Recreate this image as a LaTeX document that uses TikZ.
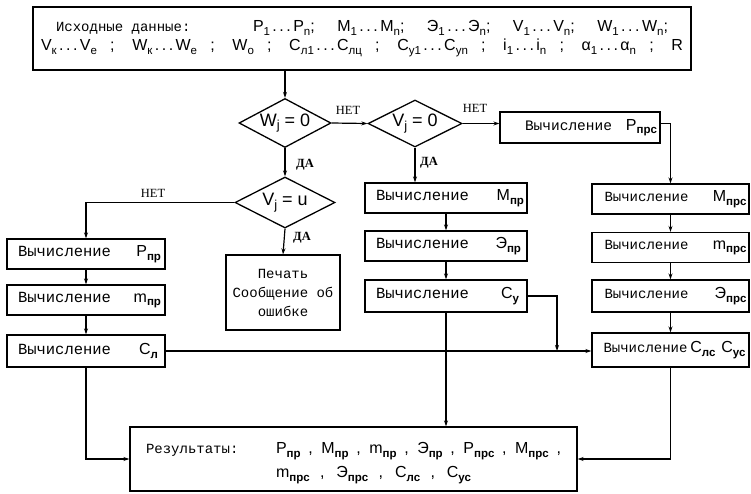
\documentclass[tikz,border=0pt]{standalone}
\usepackage{graphicx}
\usepackage{fontspec}
\setmainfont{Liberation Serif}
\newfontfamily\wordf{Liberation Mono}
\newfontfamily\symf{Liberation Sans}
\usetikzlibrary{shapes.geometric,arrows.meta}
\newcommand\lo[1]{\raisebox{-0.4ex}{\scalebox{0.72}{#1}}}
\newcommand\lb[1]{\raisebox{-0.4ex}{\scalebox{0.72}{\bfseries #1}}}
\newcommand\dd{\hbox to 1.45em{\hspace{0.15em}.\hfil.\hfil.\hspace{0.15em}}}
\newcommand\vyc[4][15.5]{\hbox to #2{\hspace{#3}{\wordf\fontsize{#1}{18}\selectfont Вычисление}\hfil{\symf\fontsize{16}{18}\selectfont #4}}}
\tikzset{
  box/.style={draw, line width=1.3pt, rectangle, inner sep=0pt, minimum height=30pt,
    font=\fontsize{14}{19}\selectfont},
  dia/.style={draw, diamond, aspect=2, line width=1.3pt, inner sep=0pt,
    font=\symf\fontsize{18}{20}\selectfont},
  conn/.style={line width=1.2pt},
  arr/.style={conn, -{Stealth[length=6pt,width=4pt]}},
  lab/.style={font=\fontsize{12.5}{13}\selectfont, inner sep=0pt},
  dalab/.style={lab, font=\bfseries\fontsize{12.5}{13}\selectfont},
}
\begin{document}
\begin{tikzpicture}[x=1pt,y=-1pt]
\useasboundingbox (0,0) rectangle (751,493);
% top box
\node[box, minimum width=658pt, minimum height=63pt, font=\fontsize{14}{19}\selectfont] (in) at (362,38.5)
 {\vbox{\hbox to 642pt{\hspace{15pt}{\wordf Исходные данные:}\hfil{\symf\fontsize{16}{19}\selectfont\makebox[415pt][s]{P\lo{1}\dd P\lo{n}; M\lo{1}\dd M\lo{n}; Э\lo{1}\dd Э\lo{n}; V\lo{1}\dd V\lo{n}; W\lo{1}\dd W\lo{n};}}\hspace{15pt}}
  \hbox to 642pt{\symf\fontsize{16}{19}\selectfont\makebox[642pt][s]{V\lo{к}\dd V\lo{e} ; W\lo{к}\dd W\lo{e} ; W\lo{o} ; C\lo{л1}\dd C\lo{лц} ; C\lo{у1}\dd C\lo{уn} ; i\lo{1}\dd i\lo{n} ; α\lo{1}\dd α\lo{n} ; R}}}};
% diamonds
\node[dia, minimum width=92pt, minimum height=49pt] (w) at (285,123) {W\lo{j} = 0};
\node[dia, minimum width=94pt, minimum height=47pt] (v) at (415,123.5) {V\lo{j} = 0};
\node[dia, minimum width=100pt, minimum height=51pt] (u) at (285,202.5) {V\lo{j} = u};
% left column
\node[box, minimum width=158pt] (p1) at (86,254) {\vyc{150pt}{7pt}{P\lb{пр}}};
\node[box, minimum width=158pt] (m1) at (86,300) {\vyc{150pt}{7pt}{m\lb{пр}}};
\node[box, minimum width=158pt, minimum height=32pt] (c1) at (86,351) {\vyc{150pt}{7pt}{C\lb{л}\hspace{3pt}}};
\node[box, minimum width=114pt, minimum height=75pt, align=center, font=\wordf\fontsize{14}{19}\selectfont] (pr) at (283,292.5) {Печать\\Сообщение об\\ошибке};
% middle column
\node[box, minimum width=162pt] (mp) at (446,198) {\vyc{156pt}{8pt}{M\lb{пр}}};
\node[box, minimum width=162pt] (ep) at (446,246) {\vyc{156pt}{8pt}{Э\lb{пр}\hspace{3pt}}};
\node[box, minimum width=162pt, minimum height=32pt] (cy) at (446,296) {\vyc{156pt}{8pt}{C\lb{у}\hspace{5pt}}};
% right column
\node[box, minimum width=160pt, minimum height=31pt] (prs) at (580,127.5) {\vyc[14.5]{154pt}{22pt}{P\lb{прс}}};
\node[box, minimum width=157pt] (mprs) at (670.5,199) {\vyc[14]{152pt}{10pt}{M\lb{прс}}};
\node[box, minimum width=157pt] (mmprs) at (670.5,247.5) {\vyc[14]{152pt}{10pt}{m\lb{прс}}};
\node[box, minimum width=157pt, minimum height=32pt] (eprs) at (670.5,296) {\vyc[14]{152pt}{10pt}{Э\lb{прс}}};
\node[box, minimum width=157pt, minimum height=34pt] (cls) at (670.5,350) {\vyc[14]{150pt}{8pt}{C\lb{лс}\hspace{6pt}C\lb{ус}}};
% result
\node[box, minimum width=447pt, minimum height=64pt, font=\fontsize{14}{24}\selectfont] (res) at (353.5,459)
 {\vbox{\vskip 8pt\hbox to 415pt{{\wordf Результаты:}\hfil{\symf\fontsize{16}{24}\selectfont\makebox[285pt][s]{P\lb{пр} , M\lb{пр} , m\lb{пр} , Э\lb{пр} , P\lb{прс} , M\lb{прс} ,}}}
  \hbox to 415pt{\hspace{130pt}{\symf\fontsize{16}{24}\selectfont\makebox[195pt][s]{m\lb{прс} , Э\lb{прс} , C\lb{лс} , C\lb{ус}}}\hfil}}};
% connectors
\draw[arr] (w.north |- in.south) -- (w.north);
\draw[arr] (w.south) -- (u.north);
\draw[arr] (w.east) -- (v.west);
\draw[arr] (v.east) -- (v.east -| prs.west);
\draw[arr] (v.east -| prs.east) -| (mprs.north);
\draw[arr] (v.south) -- (v.south |- mp.north);
\draw[arr] (u.west) -| (p1.north);
\draw[arr] (u.south) -- (pr.north);
\draw[arr] (p1.south) -- (m1.north);
\draw[arr] (m1.south) -- (c1.north);
\draw[arr] (mp.south) -- (ep.north);
\draw[arr] (ep.south) -- (cy.north);
\draw[arr] (mprs.south) -- (mmprs.north);
\draw[arr] (mmprs.south) -- (eprs.north);
\draw[arr] (eprs.south) -- (cls.north);
\coordinate (j) at (557,351);
\draw[arr] (c1.east) -- (cls.west |- c1.east);
\draw[arr] (cy.east) -| (j);
\draw[arr] (cy.south) -- (cy.south |- res.north);
\draw[arr] (c1.south) |- (res.west);
\draw[arr] (cls.south) |- (res.east);
% labels
\node[lab] (n1) at (348,110) {НЕТ};
\node[lab] (n2) at (475,108) {НЕТ};
\node[lab] (n3) at (153,193) {НЕТ};
\node[dalab] (d1) at (305,165) {ДА};
\node[dalab] (d2) at (429,163) {ДА};
\node[dalab] (d3) at (302,238) {ДА};
\end{tikzpicture}
\end{document}
